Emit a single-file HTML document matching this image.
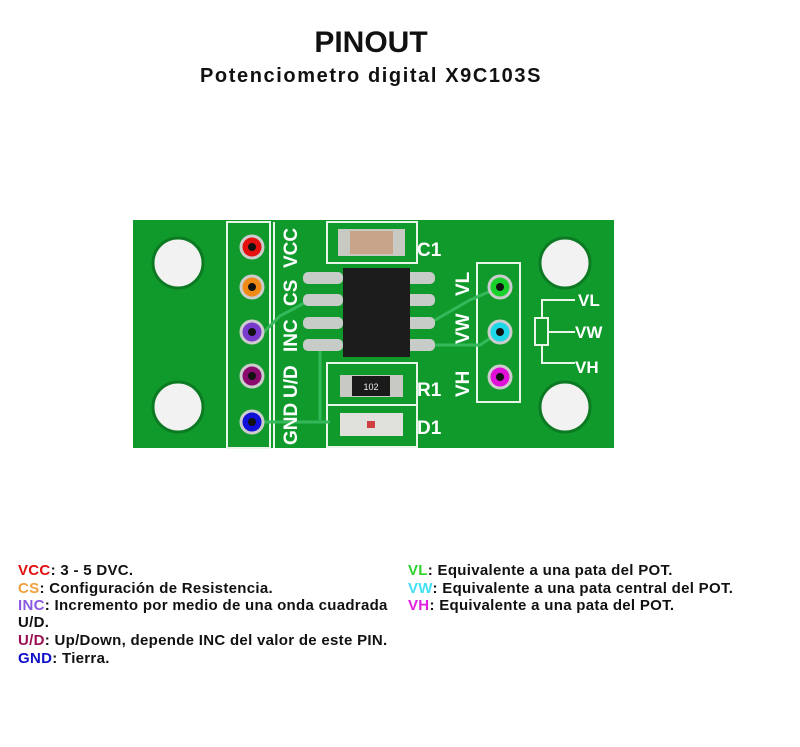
<!DOCTYPE html>
<html><head><meta charset="utf-8"><style>
html,body{margin:0;padding:0;background:#fff;}
body{width:800px;height:742px;overflow:hidden;font-family:"Liberation Sans",sans-serif;}
</style></head><body>
<svg width="800" height="742" viewBox="0 0 800 742" xmlns="http://www.w3.org/2000/svg" font-family="Liberation Sans, sans-serif">
<rect width="800" height="742" fill="#fff"/>
<text x="371" y="52" text-anchor="middle" font-size="30" font-weight="bold" fill="#111">PINOUT</text>
<text x="371" y="82" text-anchor="middle" font-size="20" font-weight="bold" fill="#111" letter-spacing="1.6">Potenciometro digital X9C103S</text>

<rect x="133" y="220" width="481" height="228" fill="#109a2c"/>
<g fill="#f2f2f2" stroke="#0b7a22" stroke-width="3">
<circle cx="178" cy="263" r="25"/><circle cx="178" cy="407" r="25"/>
<circle cx="565" cy="263" r="25"/><circle cx="565" cy="407" r="25"/>
</g>
<g fill="none" stroke="#e8f5e8" stroke-width="2">
<rect x="227" y="222" width="43" height="226"/>
<line x1="274" y1="222" x2="274" y2="448"/>
<path d="M327 263 V222 H417 V263 Z"/>
<rect x="327" y="363" width="90" height="84"/>
<line x1="327" y1="405" x2="417" y2="405"/>
<rect x="477" y="263" width="43" height="139"/>
<path d="M542 318 V300 H575 M542 345 V363 H575 M535 318 h13 v27 h-13 z M548 332 H575"/>
</g>
<g stroke="#34b85a" stroke-width="3" fill="none">
<path d="M264 332 L280 316 L310 300"/><path d="M264 422 L330 422"/>
<path d="M320 345 L320 420"/><path d="M430 323 L470 300 L500 287"/><path d="M430 345 L480 345 L500 332"/>
</g>
<g stroke="#ccc" stroke-width="3">
<circle cx="252" cy="247" r="11" fill="#e41010"/>
<circle cx="252" cy="287" r="11" fill="#f08a17"/>
<circle cx="252" cy="332" r="11" fill="#7a3ad0"/>
<circle cx="252" cy="376" r="11" fill="#8a0a6e"/>
<circle cx="252" cy="422" r="11" fill="#1010d8"/>
<circle cx="500" cy="287" r="11" fill="#19d12a"/>
<circle cx="500" cy="332" r="11" fill="#1ed6e8"/>
<circle cx="500" cy="377" r="11" fill="#e010d8"/>
</g>
<g fill="#111"><circle cx="252" cy="247" r="4"/><circle cx="252" cy="287" r="4"/><circle cx="252" cy="332" r="4"/><circle cx="252" cy="376" r="4"/><circle cx="252" cy="422" r="4"/><circle cx="500" cy="287" r="4"/><circle cx="500" cy="332" r="4"/><circle cx="500" cy="377" r="4"/></g>
<g fill="#c8ccc8"><rect x="303" y="272" width="40" height="12" rx="5"/><rect x="303" y="294" width="40" height="12" rx="5"/><rect x="303" y="317" width="40" height="12" rx="5"/><rect x="303" y="339" width="40" height="12" rx="5"/>
<rect x="405" y="272" width="30" height="12" rx="5"/><rect x="405" y="294" width="30" height="12" rx="5"/><rect x="405" y="317" width="30" height="12" rx="5"/><rect x="405" y="339" width="30" height="12" rx="5"/></g>
<rect x="343" y="268" width="67" height="89" fill="#1c1c1c"/>
<rect x="338" y="229" width="67" height="27" fill="#c9c9c4"/><rect x="350" y="231" width="43" height="23" fill="#c8a58a"/>
<rect x="340" y="375" width="63" height="22" fill="#c9c9c4"/><rect x="352" y="376" width="38" height="20" fill="#1a1a1a"/>
<text x="371" y="390" text-anchor="middle" font-size="9" fill="#eee">102</text>
<rect x="340" y="413" width="63" height="23" fill="#e0e0dc"/><rect x="367" y="421" width="8" height="7" fill="#d04040"/>
<g fill="#fff" font-weight="bold" font-size="19">
<text x="417" y="256">C1</text><text x="417" y="396">R1</text><text x="417" y="434">D1</text>
<text x="578" y="306" font-size="17">VL</text><text x="575" y="338" font-size="17">VW</text><text x="575" y="373" font-size="17">VH</text>
<g transform="translate(297,0)">
<text transform="translate(0,268) rotate(-90)">VCC</text>
<text transform="translate(0,306) rotate(-90)">CS</text>
<text transform="translate(0,352) rotate(-90)">INC</text>
<text transform="translate(0,398) rotate(-90)">U/D</text>
<text transform="translate(0,445) rotate(-90)">GND</text>
</g>
<g transform="translate(469,0)">
<text transform="translate(0,296) rotate(-90)">VL</text>
<text transform="translate(0,344) rotate(-90)">VW</text>
<text transform="translate(0,397) rotate(-90)">VH</text>
</g>
</g>

<g font-size="15" font-weight="bold" fill="#111" letter-spacing="0.3">
<text x="18" y="575"><tspan fill="#e01010">VCC</tspan>: 3 - 5 DVC.</text>
<text x="18" y="593"><tspan fill="#f0a040">CS</tspan>: Configuración de Resistencia.</text>
<text x="18" y="610"><tspan fill="#8a5ae0">INC</tspan>: Incremento por medio de una onda cuadrada</text>
<text x="18" y="627">U/D.</text>
<text x="18" y="645"><tspan fill="#9a1050">U/D</tspan>: Up/Down, depende INC del valor de este PIN.</text>
<text x="18" y="663"><tspan fill="#1010c8">GND</tspan>: Tierra.</text>
<text x="408" y="575"><tspan fill="#30d030">VL</tspan>: Equivalente a una pata del POT.</text>
<text x="408" y="593"><tspan fill="#40e0f0">VW</tspan>: Equivalente a una pata central del POT.</text>
<text x="408" y="610"><tspan fill="#e020e0">VH</tspan>: Equivalente a una pata del POT.</text>
</g>
</svg>
</body></html>
